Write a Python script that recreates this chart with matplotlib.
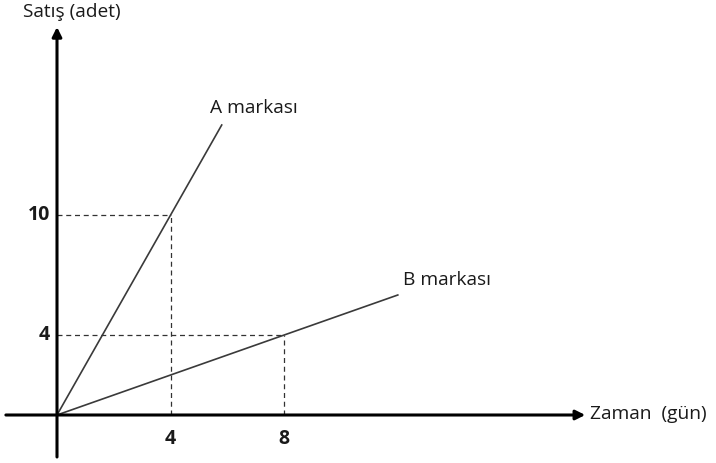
import matplotlib.pyplot as plt

# brand lines (x in gün, y in adet)
brands = ["A markası", "B markası"]
line_x = [[0, 4, 5.8], [0, 8, 12.0]]
line_y = [[0, 10, 14.5], [0, 4, 6.0]]
marked_pts = [(4, 10), (8, 4)]
x_ticks = [4, 8]
y_ticks = [4, 10]

plt.rcParams["font.family"] = ["Open Sans", "DejaVu Sans"]
txt_col = "#1a1a1a"

fig = plt.figure(figsize=(7.16, 4.63), dpi=100)
ax = fig.add_axes([0, 0, 1, 1])
# one unit: 28.4 px horizontally, 20 px vertically; origin at (57, 415) px
ax.set_xlim(-57 / 28.4, (716 - 57) / 28.4)
ax.set_ylim(-(463 - 415) / 20, 415 / 20)
ax.axis("off")

# axes with arrows
arrow = dict(arrowstyle="-|>", color="black", lw=2.2, mutation_scale=14,
             shrinkA=0, shrinkB=0)
ax.annotate("", xy=(18.6, 0), xytext=(-1.8, 0), arrowprops=arrow)
ax.annotate("", xy=(0, 19.4), xytext=(0, -2.1), arrowprops=arrow)

# dashed guide lines
for px, py in marked_pts:
    ax.plot([0, px], [py, py], color="#333333", lw=0.9, ls=(0, (4, 3)))
    ax.plot([px, px], [0, py], color="#333333", lw=0.9, ls=(0, (4, 3)))

# brand lines
for xs, ys in zip(line_x, line_y):
    ax.plot(xs, ys, color="#3a3a3a", lw=1.2)

# labels
fs = 13.8
ax.text(5.4, 14.9, brands[0], fontsize=fs, color=txt_col, va="bottom", ha="left")
ax.text(12.2, 6.3, brands[1], fontsize=fs, color=txt_col, va="bottom", ha="left")

for t in x_ticks:
    ax.text(t, -1.2, str(t), fontsize=14, fontweight="bold", color=txt_col,
            ha="center", va="center")
for t in y_ticks:
    ax.text(-0.25, t, str(t), fontsize=14, fontweight="bold", color=txt_col,
            ha="right", va="center")

ax.text(-1.2, 20.15, "Satış (adet)", fontsize=fs, color=txt_col, ha="left", va="center")
ax.text(18.75, 0.05, "Zaman  (gün)", fontsize=fs, color=txt_col, ha="left", va="center")

fig.savefig("out.png", dpi=100)
